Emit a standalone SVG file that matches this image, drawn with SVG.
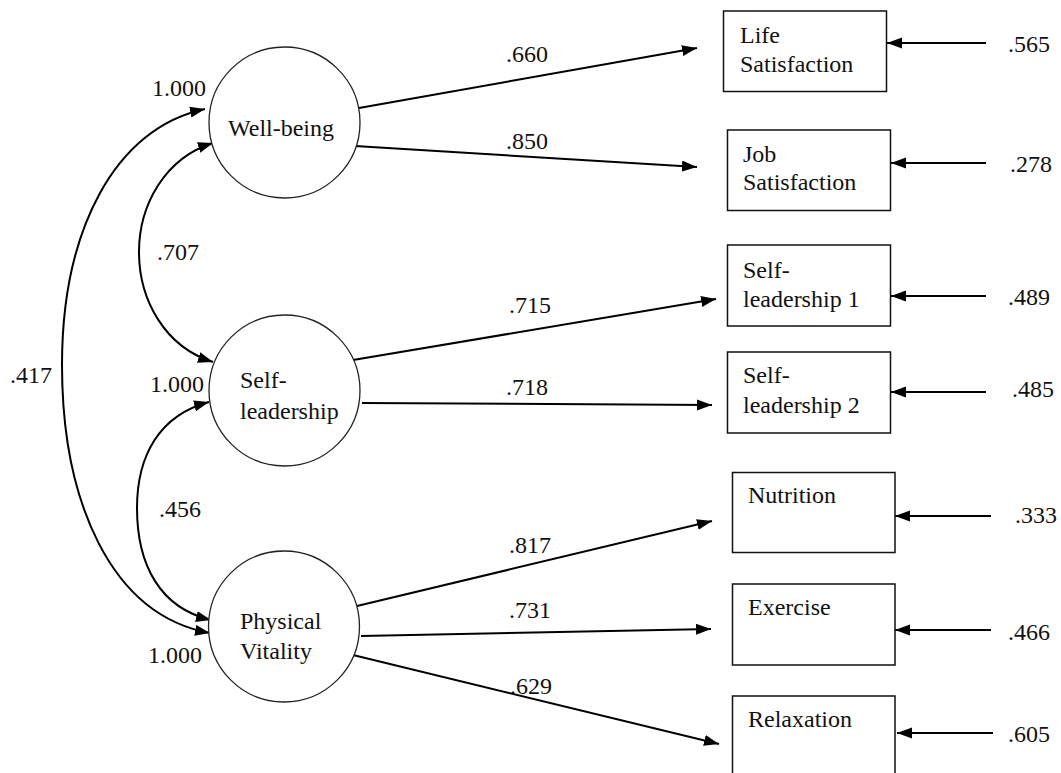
<svg xmlns="http://www.w3.org/2000/svg" width="1061" height="773" viewBox="0 0 1061 773">
<style>
text{font-family:"Liberation Serif","Times New Roman",serif;font-size:24px;fill:#111}
.lat{fill:#fff;stroke:#222;stroke-width:1.3}
.obs{fill:#fff;stroke:#111;stroke-width:1.5}
.c{fill:none;stroke:#000;stroke-width:2;marker-end:url(#ah)}
</style>
<defs>
<marker id="ah" markerUnits="userSpaceOnUse" markerWidth="16" markerHeight="12" refX="15" refY="5.5" orient="auto">
<path d="M0,0 L15,5.5 L0,11 z" fill="#000"/>
</marker>
</defs>
<rect width="1061" height="773" fill="#fff"/>
<g id="connectors">
<path class="c" d="M 359 108 L 697 48"/>
<path class="c" d="M 355 146 L 697 167"/>
<path class="c" d="M 353 360 L 716 299"/>
<path class="c" d="M 362 403 L 712 405"/>
<path class="c" d="M 357 606 L 712 521"/>
<path class="c" d="M 361 636 L 711 629"/>
<path class="c" d="M 353 655 L 719 744"/>
<path class="c" d="M 986 43 L 887 43"/>
<path class="c" d="M 986 163 L 891 163"/>
<path class="c" d="M 986 296 L 891 296"/>
<path class="c" d="M 986 392 L 891 392"/>
<path class="c" d="M 991 516 L 895 516"/>
<path class="c" d="M 991 630 L 895 630"/>
<path class="c" d="M 993 733 L 897 733"/>
<path class="c" d="M 62 365 C 62 230, 115 128, 205 109"/>
<path class="c" d="M 62 365 C 62 500, 110 615, 210 633"/>
<path class="c" d="M 139 252 C 139 205, 165 158, 213 143"/>
<path class="c" d="M 139 252 C 139 300, 165 347, 213 362"/>
<path class="c" d="M 137 508 C 137 455, 160 415, 209 402"/>
<path class="c" d="M 137 508 C 137 565, 160 608, 211 620"/>
<text x="10" y="383">.417</text>
<text x="157" y="260">.707</text>
<text x="159" y="517">.456</text>
<text x="152" y="96">1.000</text>
<text x="150" y="392">1.000</text>
<text x="148" y="663">1.000</text>
<text x="506" y="62">.660</text>
<text x="506" y="149">.850</text>
<text x="509" y="313">.715</text>
<text x="506" y="395">.718</text>
<text x="509" y="553">.817</text>
<text x="509" y="618">.731</text>
<text x="510" y="694">.629</text>
<text x="1008" y="52">.565</text>
<text x="1010" y="172">.278</text>
<text x="1008" y="305">.489</text>
<text x="1012" y="397">.485</text>
<text x="1015" y="523">.333</text>
<text x="1008" y="640">.466</text>
<text x="1008" y="742">.605</text>
</g>
<g id="wellbeing">
<circle class="lat" cx="284.5" cy="122.5" r="75.5"/>
<text x="228" y="136">Well-being</text>
</g>
<g id="selfleadership">
<circle class="lat" cx="284.5" cy="390.5" r="75.5"/>
<text x="240" y="388">Self-</text>
<text x="240" y="419">leadership</text>
</g>
<g id="physicalvitality">
<circle class="lat" cx="284" cy="626.5" r="75.5"/>
<text x="240" y="629">Physical</text>
<text x="240" y="659">Vitality</text>
</g>
<g id="lifesatisfaction">
<rect class="obs" x="723.5" y="11" width="163" height="80.5"/>
<text x="740" y="43">Life</text>
<text x="740" y="72">Satisfaction</text>
</g>
<g id="jobsatisfaction">
<rect class="obs" x="727.5" y="130" width="163" height="80.5"/>
<text x="743" y="162">Job</text>
<text x="743" y="190">Satisfaction</text>
</g>
<g id="selfleadership1">
<rect class="obs" x="727.5" y="245" width="163" height="81"/>
<text x="743" y="278">Self-</text>
<text x="743" y="307">leadership 1</text>
</g>
<g id="selfleadership2">
<rect class="obs" x="727.5" y="352" width="163" height="81"/>
<text x="743" y="383">Self-</text>
<text x="743" y="413">leadership 2</text>
</g>
<g id="nutrition">
<rect class="obs" x="732.5" y="472.5" width="162.5" height="80"/>
<text x="748" y="503">Nutrition</text>
</g>
<g id="exercise">
<rect class="obs" x="732.5" y="584" width="162.5" height="81"/>
<text x="748" y="615">Exercise</text>
</g>
<g id="relaxation">
<rect class="obs" x="732.5" y="696" width="162.5" height="90"/>
<text x="748" y="727">Relaxation</text>
</g>
</svg>
